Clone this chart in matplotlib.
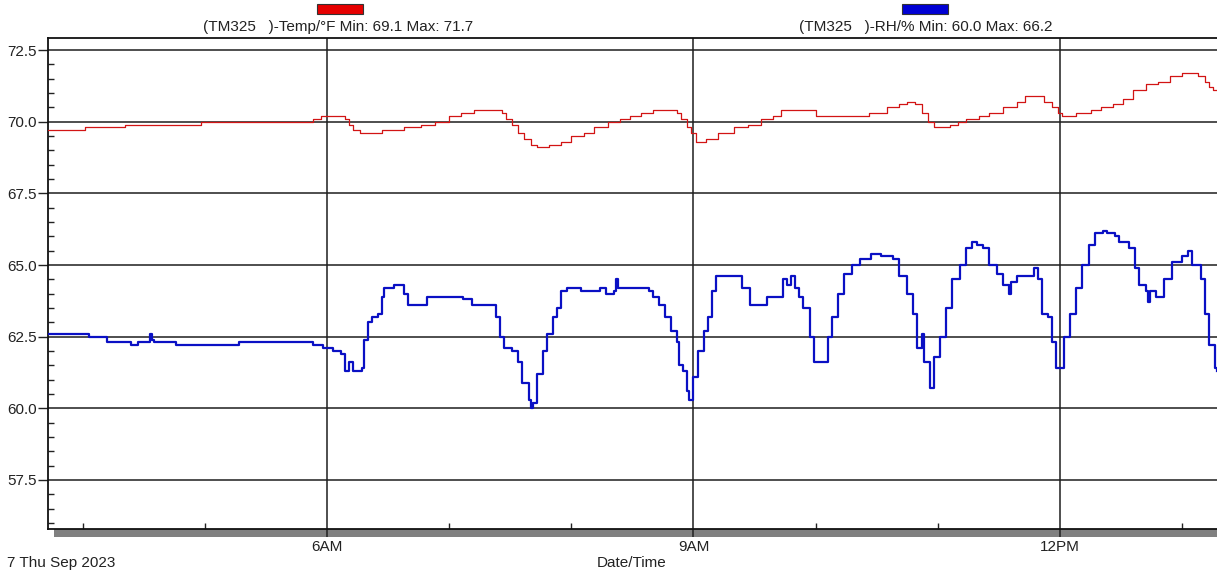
import matplotlib
matplotlib.use("Agg")
import matplotlib.pyplot as plt
from matplotlib.patches import Rectangle
import numpy as np

plt.rcParams["font.family"] = ["Liberation Sans", "DejaVu Sans"]
plt.rcParams["font.size"] = 11

# ---- logger readings (time of day, value) ----
temp_times = [
    "03:43", "04:01", "04:21", "04:58", "05:53", "05:57", "06:09", "06:11",
    "06:13", "06:16", "06:27", "06:38", "06:46", "06:53", "07:00", "07:06",
    "07:12", "07:26", "07:28", "07:31", "07:34", "07:37", "07:40", "07:43",
    "07:49", "07:55", "08:00", "08:06", "08:11", "08:18", "08:24", "08:29",
    "08:34", "08:40", "08:52", "08:54", "08:57", "08:59", "09:01", "09:06",
    "09:12", "09:20", "09:27", "09:33", "09:39", "09:43", "09:55", "10:00",
    "10:06", "10:26", "10:35", "10:41", "10:45", "10:49", "10:52", "10:55",
    "10:58", "11:06", "11:10", "11:14", "11:20", "11:25", "11:32", "11:39",
    "11:43", "11:52", "11:56", "11:59", "12:01", "12:08", "12:15", "12:20",
    "12:26", "12:31", "12:36", "12:42", "12:48", "12:54", "13:00", "13:08",
    "13:11", "13:13", "13:15", "13:17",
]
temp_values = [
    69.7, 69.8, 69.9, 70.0, 70.1, 70.2, 70.1, 69.9,
    69.7, 69.6, 69.7, 69.8, 69.9, 70.0, 70.2, 70.3,
    70.4, 70.3, 70.1, 69.9, 69.6, 69.4, 69.2, 69.1,
    69.2, 69.3, 69.5, 69.6, 69.8, 70.0, 70.1, 70.2,
    70.3, 70.4, 70.3, 70.1, 69.8, 69.6, 69.3, 69.4,
    69.6, 69.8, 69.9, 70.1, 70.2, 70.4, 70.4, 70.2,
    70.2, 70.3, 70.5, 70.6, 70.7, 70.6, 70.3, 70.0,
    69.8, 69.9, 70.0, 70.1, 70.2, 70.3, 70.5, 70.7,
    70.9, 70.7, 70.5, 70.3, 70.2, 70.3, 70.4, 70.5,
    70.6, 70.8, 71.1, 71.3, 71.4, 71.6, 71.7, 71.6,
    71.4, 71.2, 71.1, 71.1,
]

rh_times = [
    "03:43", "04:02", "04:03", "04:11", "04:12", "04:23", "04:24", "04:26",
    "04:27", "04:32", "04:33", "04:34", "04:35", "04:45", "04:46", "05:16",
    "05:17", "05:52", "05:53", "05:57", "05:58", "06:02", "06:03", "06:07",
    "06:09", "06:11", "06:13", "06:17", "06:18", "06:20", "06:22", "06:25",
    "06:27", "06:28", "06:33", "06:36", "06:38", "06:40", "06:48", "06:49",
    "07:06", "07:07", "07:10", "07:11", "07:21", "07:23", "07:25", "07:27",
    "07:31", "07:34", "07:36", "07:39", "07:40", "07:41", "07:43", "07:46",
    "07:48", "07:51", "07:53", "07:55", "07:58", "08:05", "08:14", "08:17",
    "08:21", "08:22", "08:23", "08:38", "08:40", "08:43", "08:46", "08:49",
    "08:52", "08:53", "08:55", "08:57", "08:58", "09:00", "09:02", "09:05",
    "09:07", "09:09", "09:11", "09:23", "09:24", "09:26", "09:28", "09:35",
    "09:36", "09:43", "09:44", "09:46", "09:48", "09:50", "09:52", "09:54",
    "09:57", "09:59", "10:04", "10:06", "10:08", "10:11", "10:14", "10:18",
    "10:22", "10:27", "10:32", "10:38", "10:41", "10:45", "10:48", "10:50",
    "10:52", "10:53", "10:56", "10:58", "11:01", "11:04", "11:07", "11:11",
    "11:14", "11:17", "11:19", "11:22", "11:25", "11:29", "11:32", "11:35",
    "11:36", "11:39", "11:46", "11:47", "11:49", "11:51", "11:54", "11:56",
    "11:58", "12:00", "12:02", "12:05", "12:08", "12:11", "12:14", "12:17",
    "12:21", "12:23", "12:27", "12:29", "12:34", "12:37", "12:39", "12:42",
    "12:43", "12:44", "12:47", "12:51", "12:55", "13:00", "13:03", "13:05",
    "13:09", "13:11", "13:13", "13:16", "13:17",
]
rh_values = [
    62.6, 62.6, 62.5, 62.5, 62.3, 62.3, 62.2, 62.2,
    62.3, 62.3, 62.6, 62.4, 62.3, 62.3, 62.2, 62.2,
    62.3, 62.3, 62.2, 62.2, 62.1, 62.1, 62.0, 61.9,
    61.3, 61.6, 61.3, 61.4, 62.4, 63.0, 63.2, 63.3,
    63.9, 64.2, 64.3, 64.3, 64.0, 63.6, 63.6, 63.9,
    63.9, 63.8, 63.8, 63.6, 63.6, 63.2, 62.5, 62.1,
    62.0, 61.6, 60.9, 60.3, 60.0, 60.2, 61.2, 62.0,
    62.6, 63.2, 63.5, 64.1, 64.2, 64.1, 64.2, 64.0,
    64.1, 64.5, 64.2, 64.1, 63.9, 63.6, 63.2, 62.7,
    62.3, 61.5, 61.3, 60.6, 60.3, 61.1, 62.0, 62.7,
    63.2, 64.1, 64.6, 64.6, 64.2, 64.2, 63.6, 63.6,
    63.9, 63.9, 64.5, 64.3, 64.6, 64.2, 63.9, 63.5,
    62.5, 61.6, 61.6, 62.5, 63.2, 64.0, 64.7, 65.0,
    65.2, 65.4, 65.3, 65.2, 64.6, 64.0, 63.3, 62.1,
    62.6, 61.6, 60.7, 61.8, 62.5, 63.5, 64.5, 65.0,
    65.6, 65.8, 65.7, 65.6, 65.0, 64.7, 64.3, 64.0,
    64.4, 64.6, 64.6, 64.9, 64.5, 63.3, 63.2, 62.3,
    61.4, 61.4, 62.5, 63.3, 64.2, 65.0, 65.7, 66.1,
    66.2, 66.1, 66.0, 65.8, 65.6, 64.9, 64.3, 64.1,
    63.7, 64.1, 63.9, 64.5, 65.1, 65.3, 65.5, 65.0,
    64.5, 63.3, 62.2, 61.4, 61.3,
]

y_ticks = [57.5, 60.0, 62.5, 65.0, 67.5, 70.0, 72.5]
x_major_hours = [6, 9, 12]
x_major_labels = ["6AM", "9AM", "12PM"]
x_minor_hours = [4, 5, 7, 8, 10, 11, 13]
date_label = "7 Thu Sep 2023"
temp_name = "(TM325   )-Temp/\u00b0F"
rh_name = "(TM325   )-RH/%"


def to_hours(stamps):
    out = []
    for s in stamps:
        h, m = s.split(":")
        out.append(int(h) + int(m) / 60.0)
    return np.array(out)


t_temp = to_hours(temp_times)
t_rh = to_hours(rh_times)
temp = np.array(temp_values)
rh = np.array(rh_values)

W, H = 1217, 572
fig = plt.figure(figsize=(W / 100, H / 100), dpi=100)
fig.patch.set_facecolor("white")

left_px, right_px, top_px, bottom_px = 48, 1217, 38, 529
ax = fig.add_axes([left_px / W, 1 - bottom_px / H,
                   (right_px - left_px) / W, (bottom_px - top_px) / H])

RED = "#d21414"
BLUE = "#0a10c4"

ax.plot(t_temp, temp, drawstyle="steps-post", color=RED, lw=0.9, zorder=3)
ax.plot(t_rh, rh, drawstyle="steps-post", color=BLUE, lw=1.6, zorder=3)

ax.set_xlim(3.717, 13.285)
ax.set_ylim(55.79, 72.92)

# y axis: major ticks outward with gridlines, minor ticks inward every 0.5
ax.set_yticks(y_ticks)
ax.set_yticklabels([f"{v:.1f}" for v in y_ticks])
ax.set_yticks(np.arange(56.0, 72.6, 0.5), minor=True)
ax.tick_params(axis="y", which="major", direction="out", length=7, width=1.0,
               pad=1, labelsize=11, colors="#222222")
ax.tick_params(axis="y", which="minor", direction="in", length=4.5, width=1.0,
               color="#222222")

# x axis: 3-hourly gridlines, hourly inward minor ticks
ax.set_xticks(x_major_hours)
ax.set_xticklabels(x_major_labels)
ax.set_xticks(x_minor_hours, minor=True)
ax.tick_params(axis="x", which="major", direction="out", length=6, width=1.1,
               pad=2, labelsize=11, colors="#222222")
ax.tick_params(axis="x", which="minor", direction="in", length=4, width=1.0,
               color="#222222")

ax.grid(True, which="major", color="#1e1e1e", lw=1.1, zorder=1)
ax.set_axisbelow(True)

for side in ("left", "bottom", "top"):
    ax.spines[side].set_color("#111111")
    ax.spines[side].set_linewidth(1.3)
ax.spines["right"].set_visible(False)

# grey shadow band under the time axis
ax_w = right_px - left_px
ax_h = bottom_px - top_px
ax.add_patch(Rectangle((6 / ax_w, -8 / ax_h), 1.0, 8 / ax_h,
                       transform=ax.transAxes, clip_on=False,
                       facecolor="#808080", edgecolor="none", zorder=0.5))

# captions under the time axis
fig.text(7 / W, 1 - 563 / H, date_label, ha="left", va="center",
         fontsize=11, color="#222222")
fig.text(632 / W, 1 - 563 / H, "Date/Time", ha="center", va="center",
         fontsize=11, color="#222222")


# series keys at the top
def series_key(cx, rect_x0, rect_x1, color, name, values):
    fig.patches.append(Rectangle((rect_x0 / W, 1 - 14 / H),
                                 (rect_x1 - rect_x0) / W, 10 / H,
                                 transform=fig.transFigure, facecolor=color,
                                 edgecolor="#333333", lw=0.8))
    fig.text(cx / W, 1 - 27 / H,
             f"{name} Min: {values.min():.1f} Max: {values.max():.1f}",
             ha="center", va="center", fontsize=11, color="#222222")


series_key(338, 317, 363, "#e60000", temp_name, temp)
series_key(926, 902, 948, "#0000d4", rh_name, rh)

fig.savefig("out.png", dpi=100)
